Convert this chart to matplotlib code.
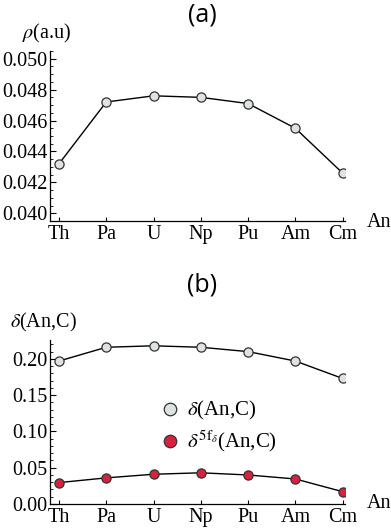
import matplotlib
matplotlib.use("Agg")
import matplotlib.pyplot as plt
from matplotlib.ticker import MultipleLocator, FixedLocator

plt.rcParams['font.family'] = ['Liberation Serif', 'DejaVu Serif']
plt.rcParams['mathtext.fontset'] = 'stix'

elements = ["Th", "Pa", "U", "Np", "Pu", "Am", "Cm"]
rho = [0.0432, 0.0472, 0.0476, 0.0475, 0.0471, 0.0455, 0.0426]
delta = [0.197, 0.216, 0.218, 0.216, 0.210, 0.197, 0.173]
delta_5f = [0.0295, 0.036, 0.041, 0.043, 0.040, 0.0345, 0.017]
rho_ticks = [0.040, 0.042, 0.044, 0.046, 0.048, 0.050]
delta_ticks = [0.00, 0.05, 0.10, 0.15, 0.20]

W, H = 391, 532
fig = plt.figure(figsize=(W/100, H/100), dpi=100)

gray_face = "#dde3df"
red_face = "#d8203f"
fs = 14.5
x = list(range(len(elements)))

def style(ax):
    for s in ["top", "right"]:
        ax.spines[s].set_visible(False)
    ax.spines["left"].set_linewidth(0.9)
    ax.spines["bottom"].set_linewidth(0.9)
    ax.set_xticks(x)
    ax.set_xticklabels(elements, fontsize=fs)
    ax.tick_params(axis="x", direction="in", length=3, width=0.8, pad=3)
    ax.tick_params(axis="y", which="major", direction="in", length=4, width=0.8, labelsize=fs, pad=2)
    ax.tick_params(axis="y", which="minor", direction="in", length=2, width=0.6)
    ax.set_xlim(-0.19, 6.05)

# Panel (a)
ax1 = fig.add_axes([50/W, 1-221/H, 295/W, 170/H])
ax1.plot(x, rho, color="black", lw=1.0, marker="o", ms=6.6, mfc=gray_face, mec="#333333", mew=0.9, zorder=3)
ax1.yaxis.set_major_locator(FixedLocator(rho_ticks))
ax1.yaxis.set_minor_locator(MultipleLocator(0.0005))
ax1.set_yticklabels([f"{v:.3f}" for v in rho_ticks])
style(ax1)
ax1.set_ylim(0.0395, 0.0505)
fig.text(22/W, 1-33/H, r"$\rho$(a.u)", fontsize=fs, ha="left", va="center")
fig.text(367/W, 1-222/H, "An", fontsize=fs, ha="left", va="center")
fig.text(202/W, 1-15/H, "(a)", fontsize=18, ha="center", va="center", family=["Open Sans", "DejaVu Sans"])

# Panel (b)
ax2 = fig.add_axes([50/W, 1-504/H, 295/W, 164/H])
ax2.plot(x, delta, color="black", lw=1.0, marker="o", ms=6.6, mfc=gray_face, mec="#333333", mew=0.9, zorder=3,
         label=r"$\delta$(An,C)")
ax2.plot(x, delta_5f, color="black", lw=1.0, marker="o", ms=6.6, mfc=red_face, mec="#333333", mew=0.9, zorder=3,
         label=r"$\delta^{\mathrm{5f}_{\delta}}$(An,C)")
ax2.yaxis.set_major_locator(FixedLocator(delta_ticks))
ax2.yaxis.set_minor_locator(MultipleLocator(0.01))
ax2.set_yticklabels([f"{v:.2f}" for v in delta_ticks])
style(ax2)
ax2.set_ylim(0.0, 0.226)
leg = ax2.legend(loc="center left", bbox_to_anchor=(0.35, 0.47), frameon=False, fontsize=15,
                 handlelength=0.6, handletextpad=0.5, labelspacing=0.3, borderpad=0)
for h in leg.legend_handles:
    h.set_linestyle("none")
    h.set_markersize(9)
fig.text(10/W, 1-(270+52)/H, r"$\delta$(An,C)", fontsize=fs, ha="left", va="center")
fig.text(367/W, 1-504/H, "An", fontsize=fs, ha="left", va="center")
fig.text(202/W, 1-285/H, "(b)", fontsize=18, ha="center", va="center", family=["Open Sans", "DejaVu Sans"])

fig.savefig("out.png", dpi=100)
